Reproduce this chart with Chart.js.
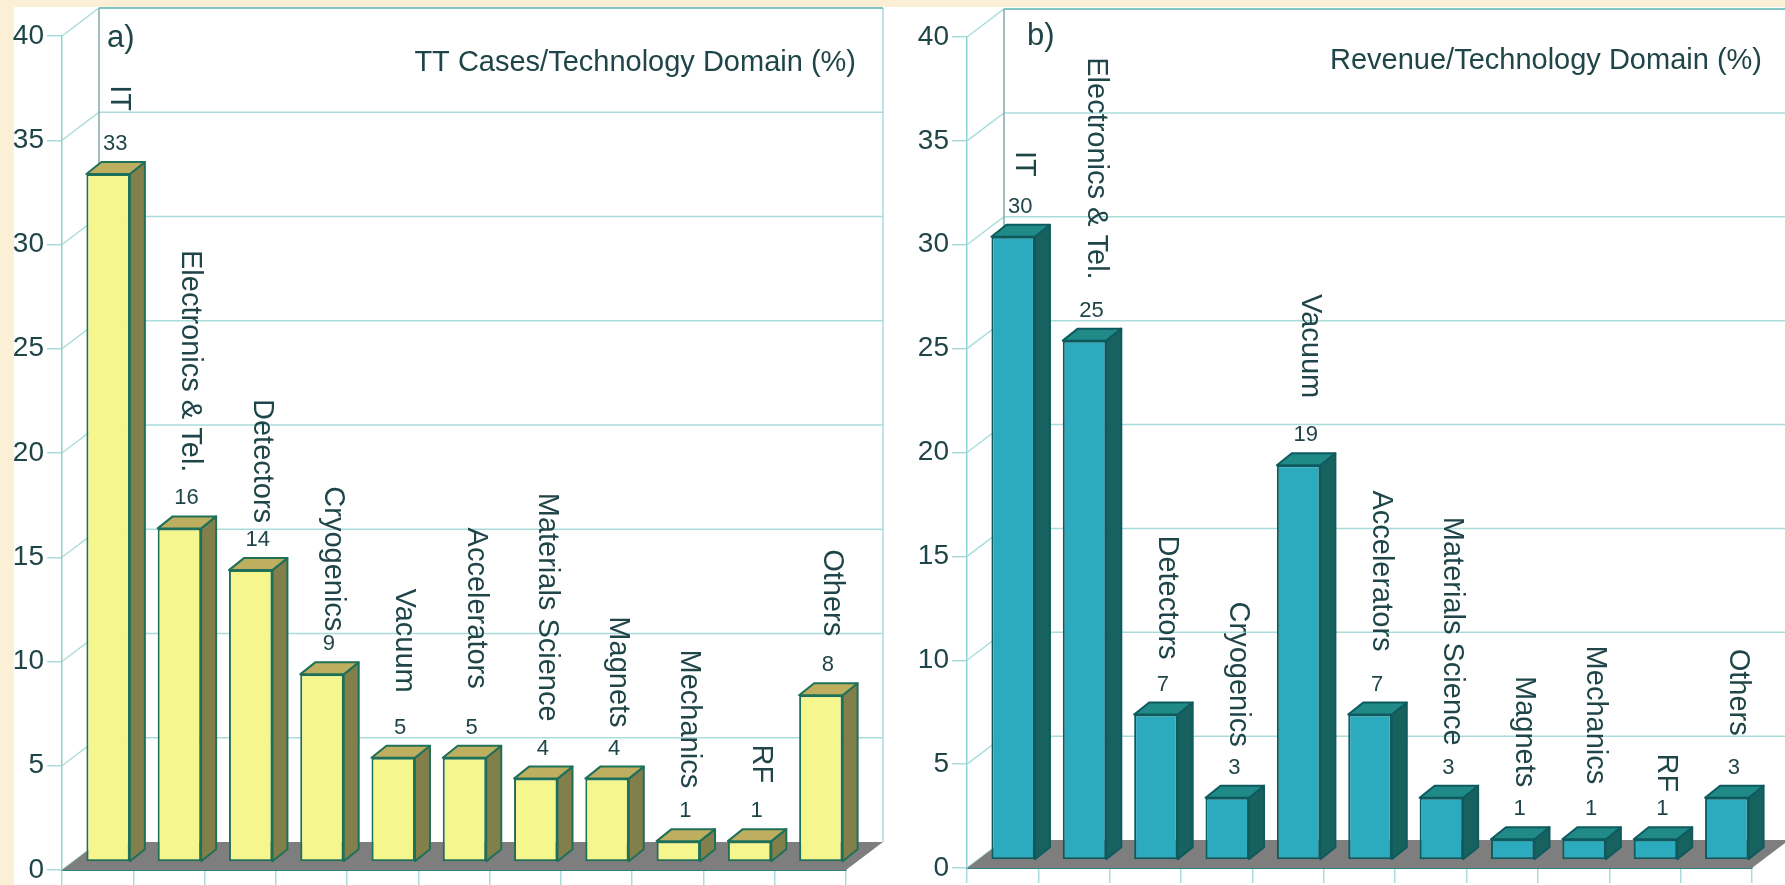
<!DOCTYPE html>
<html>
<head>
<meta charset="utf-8">
<title>Technology domains</title>
<script src="https://cdn.jsdelivr.net/npm/chart.js@4"></script>
<style>
  html, body { margin: 0; padding: 0; width: 1785px; height: 885px; overflow: hidden; background: #fbefd6; }
  #sheet { position: absolute; left: 14px; top: 7px; right: 0; bottom: 0; background: #fff; }
  canvas { position: absolute; top: 0; }
  #casesChart { left: 0; }
  #revenueChart { left: 895px; }
</style>
</head>
<body>
<div id="sheet"></div>
<canvas id="casesChart" width="900" height="885"></canvas>
<canvas id="revenueChart" width="890" height="885"></canvas>
<script>
const categories = ['IT', 'Electronics & Tel.', 'Detectors', 'Cryogenics', 'Vacuum', 'Accelerators',
    'Materials Science', 'Magnets', 'Mechanics', 'RF', 'Others'];
const casesValues = [33, 16, 14, 9, 5, 5, 4, 4, 1, 1, 8];
const revenueValues = [30, 25, 7, 3, 19, 7, 3, 1, 1, 1, 3];
const casesTitle = 'TT Cases/Technology Domain (%)';
const revenueTitle = 'Revenue/Technology Domain (%)';

const FONT = '"Liberation Sans", Arial, sans-serif';
const TEXT = '#1f4548';
const GRID = '#aadcdc';

// depth of the box behind the axes, and of each bar
const WALL_DX = 37, WALL_DY = 28;
const BAR_DX = 15, BAR_DY = 12;

const box3d = {
    id: 'box3d',
    beforeDatasetsDraw(chart, args, opts) {
        const { ctx, chartArea: a, scales: { y } } = chart;
        ctx.save();
        // left wall, back wall
        ctx.lineWidth = 1.5;
        ctx.strokeStyle = GRID;
        for (let v = 0; v <= 40; v += 5) {
            const py = y.getPixelForValue(v);
            ctx.beginPath();
            ctx.moveTo(a.left, py);
            ctx.lineTo(a.left + WALL_DX, py - WALL_DY);
            if (v > 0) ctx.lineTo(a.right + WALL_DX, py - WALL_DY);
            ctx.stroke();
        }
        ctx.beginPath();
        ctx.moveTo(a.right + WALL_DX, a.top - WALL_DY);
        ctx.lineTo(a.right + WALL_DX, a.bottom - WALL_DY);
        ctx.stroke();
        ctx.strokeStyle = '#84a6a8';
        ctx.beginPath();
        ctx.moveTo(a.left + WALL_DX, a.top - WALL_DY);
        ctx.lineTo(a.left + WALL_DX, a.bottom - WALL_DY);
        ctx.stroke();
        ctx.strokeStyle = '#6cbcbc';
        ctx.beginPath();
        ctx.moveTo(a.left + WALL_DX, a.top - WALL_DY);
        ctx.lineTo(a.right + WALL_DX, a.top - WALL_DY);
        ctx.stroke();

        // floor
        ctx.fillStyle = '#7e7e7e';
        ctx.beginPath();
        ctx.moveTo(a.left, a.bottom);
        ctx.lineTo(a.right, a.bottom);
        ctx.lineTo(a.right + WALL_DX, a.bottom - WALL_DY);
        ctx.lineTo(a.left + WALL_DX, a.bottom - WALL_DY);
        ctx.closePath();
        ctx.fill();

        // the bars stand part way back on the floor
        ctx.translate(opts.shiftX, opts.shiftY);
        ctx.lineWidth = 2;
        ctx.lineJoin = 'round';
        ctx.strokeStyle = opts.edge;
        chart.getDatasetMeta(0).data.forEach(bar => {
            const l = bar.x - bar.width / 2, r = bar.x + bar.width / 2;
            ctx.fillStyle = opts.side;
            ctx.beginPath();
            ctx.moveTo(r, bar.y);
            ctx.lineTo(r + BAR_DX, bar.y - BAR_DY);
            ctx.lineTo(r + BAR_DX, bar.base - BAR_DY);
            ctx.lineTo(r, bar.base);
            ctx.closePath();
            ctx.fill();
            ctx.stroke();
            ctx.fillStyle = opts.top;
            ctx.beginPath();
            ctx.moveTo(l, bar.y);
            ctx.lineTo(l + BAR_DX, bar.y - BAR_DY);
            ctx.lineTo(r + BAR_DX, bar.y - BAR_DY);
            ctx.lineTo(r, bar.y);
            ctx.closePath();
            ctx.fill();
            ctx.stroke();
        });
        // BarElement draws right after this hook, inside the same translation
    },
    afterDatasetsDraw(chart, args, opts) {
        const { ctx, chartArea: a } = chart;
        ctx.restore();
        ctx.save();
        ctx.fillStyle = TEXT;
        const labels = chart.data.labels;
        const values = chart.data.datasets[0].data;
        chart.getDatasetMeta(0).data.forEach((bar, i) => {
            const cx = bar.x + opts.shiftX + 7;
            const valueY = bar.y + opts.shiftY - BAR_DY - 18;
            ctx.font = '22px ' + FONT;
            ctx.textAlign = 'center';
            ctx.textBaseline = 'middle';
            ctx.fillText(values[i], cx, valueY);
            // category names run downwards and end just above the value
            ctx.save();
            ctx.translate(cx + 4, valueY - opts.captionGaps[i]);
            ctx.rotate(Math.PI / 2);
            ctx.font = '29px ' + FONT;
            ctx.textAlign = 'right';
            ctx.fillText(labels[i], 0, 0);
            ctx.restore();
        });
        ctx.textBaseline = 'middle';
        ctx.font = '31px ' + FONT;
        ctx.textAlign = 'left';
        ctx.fillText(opts.mark, a.left + opts.markX, opts.markY);
        ctx.font = '29px ' + FONT;
        ctx.textAlign = 'right';
        ctx.fillText(opts.title, a.right + 10, opts.titleY);
        ctx.restore();
    }
};

function makeChart(id, values, left, right, bottomPad, topPad, box) {
    return new Chart(document.getElementById(id), {
        type: 'bar',
        data: {
            labels: categories,
            datasets: [{
                data: values,
                backgroundColor: box.front,
                borderColor: box.edge,
                borderWidth: 2,
                borderSkipped: false,
                barPercentage: 0.61,
                categoryPercentage: 1,
                clip: false
            }]
        },
        plugins: [box3d],
        options: {
            responsive: false,
            animation: false,
            layout: { padding: { top: topPad, right: right, bottom: bottomPad, left: 0 } },
            plugins: { legend: { display: false }, title: { display: false }, tooltip: { enabled: false }, box3d: box },
            scales: {
                x: {
                    afterFit(s) { s.height = 15; s.paddingLeft = 0; s.paddingRight = 0; },
                    ticks: { display: false, autoSkip: false },
                    border: { color: '#2f7f80', width: 2 },
                    grid: { drawOnChartArea: false, color: GRID, tickLength: 15, lineWidth: 1.5 }
                },
                y: {
                    min: 0,
                    max: 40,
                    afterFit(s) { s.width = left; s.paddingTop = 0; s.paddingBottom = 0; },
                    ticks: { stepSize: 5, color: TEXT, padding: 3, font: { family: FONT, size: 28 } },
                    border: { color: '#8fd2d2', width: 1.5 },
                    grid: { drawOnChartArea: false, color: GRID, tickLength: 15, lineWidth: 1.5 }
                }
            }
        }
    });
}

makeChart('casesChart', casesValues, 62, 54, 0, 36, {
    front: '#f6f68e', side: '#837f4b', top: '#bdae60', edge: '#1f7058',
    shiftX: 10.5, shiftY: -8,
    mark: 'a)', markX: 45, markY: 38,
    title: casesTitle, titleY: 63,
    captionGaps: [33, 26, 17, 13, 35, 39, 27, 21, 23, 28, 29]
});
makeChart('revenueChart', revenueValues, 72, 33, 2, 37, {
    front: '#2babbd', side: '#17625f', top: '#1f8a88', edge: '#0f5a5e',
    shiftX: 10.5, shiftY: -8,
    mark: 'b)', markX: 60, markY: 36,
    title: revenueTitle, titleY: 61,
    captionGaps: [30, 31, 25, 21, 37, 33, 22, 22, 25, 17, 32]
});
</script>
</body>
</html>
